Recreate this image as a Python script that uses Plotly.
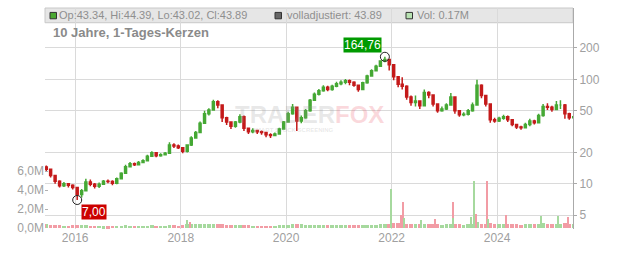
import math
import pandas as pd
import plotly.graph_objects as go

# ---------------- data (monthly candles) ----------------
months = pd.date_range("2015-06-01", "2025-06-01", freq="MS") + pd.Timedelta(days=14)

close = [13.8, 12.0, 10.6, 9.6, 10.0, 9.7, 9.2,
         7.9, 8.6, 10.4, 9.9, 9.5, 9.9, 10.6, 10.5, 10.1, 11.2, 12.6, 14.6,
         15.6, 15.2, 16.0, 16.6, 18.4, 19.8, 18.6, 19.0, 19.6, 23.5, 23.0, 22.2,
         20.5, 23.5, 27.5, 31.0, 38.0, 47.0, 51.0, 61.0, 57.0, 43.0, 39.0, 35.5,
         39.0, 44.0, 34.0, 31.5, 32.5, 31.5, 31.0, 29.5, 29.0, 30.0, 33.5, 39.0,
         47.0, 54.0, 40.0, 43.0, 50.0, 63.0, 72.0, 78.0, 84.0, 80.0, 86.0, 91.0,
         94.0, 97.0, 94.0, 88.0, 80.0, 93.0, 108.0, 121.0, 134.0, 150.0, 155.0, 138.0,
         106.0, 90.0, 86.0, 68.0, 60.0, 62.0, 56.0, 75.0, 71.0, 58.0, 50.0, 52.0,
         57.0, 68.0, 50.0, 46.0, 46.5, 50.0, 57.0, 88.0, 70.0, 58.0, 41.0, 40.0,
         42.5, 44.0, 41.0, 37.0, 35.0, 34.5, 37.0, 40.0, 38.5, 45.0, 55.0, 54.0,
         51.5, 57.0, 57.0, 47.0, 43.0, 43.89]

high = [15.0, 14.0, 12.2, 10.8, 10.4, 10.2, 9.9,
        9.3, 8.9, 11.2, 11.0, 10.2, 10.3, 10.9, 11.0, 10.8, 11.5, 12.9, 15.2,
        16.2, 16.0, 16.5, 17.2, 19.0, 20.5, 20.0, 19.6, 20.2, 25.0, 24.5, 23.8,
        22.5, 24.0, 28.5, 32.0, 39.5, 50.0, 53.0, 64.0, 63.0, 57.0, 44.0, 39.5,
        40.0, 46.5, 45.0, 34.5, 34.0, 33.0, 32.5, 31.5, 30.5, 31.0, 34.5, 40.0,
        49.0, 58.0, 55.0, 45.0, 52.0, 65.0, 75.0, 81.0, 88.0, 87.0, 89.0, 95.0,
        98.0, 101.0, 100.0, 96.0, 89.0, 95.0, 111.0, 125.0, 138.0, 153.0, 164.76, 158.0,
        140.0, 108.0, 105.0, 88.0, 70.0, 70.0, 63.0, 80.0, 77.0, 72.0, 59.0, 55.0,
        59.0, 74.0, 69.0, 51.0, 48.5, 52.0, 60.0, 99.0, 90.0, 71.0, 59.0, 43.0,
        44.0, 46.0, 45.0, 41.5, 37.5, 36.0, 38.5, 42.0, 41.0, 47.0, 58.0, 59.0,
        56.0, 62.0, 63.0, 58.0, 48.0, 45.5]

low = [13.2, 11.5, 10.0, 9.2, 9.3, 9.2, 8.8,
       7.0, 7.4, 8.5, 9.5, 9.0, 9.1, 9.8, 10.1, 9.7, 9.9, 11.0, 12.5,
       14.3, 14.8, 15.0, 15.8, 16.4, 18.2, 18.0, 18.2, 18.8, 19.4, 22.0, 21.5,
       19.6, 20.0, 23.0, 27.0, 30.5, 37.5, 45.0, 50.0, 53.0, 39.0, 36.5, 33.5,
       34.5, 38.0, 32.0, 30.0, 30.5, 30.0, 29.5, 28.0, 27.5, 28.5, 29.5, 33.0,
       38.5, 46.0, 32.0, 38.0, 42.0, 49.0, 62.0, 70.0, 76.0, 77.0, 78.0, 84.0,
       88.0, 90.0, 88.0, 85.0, 76.0, 79.0, 91.0, 106.0, 119.0, 132.0, 146.0, 122.0,
       98.0, 84.0, 80.0, 64.0, 56.0, 55.0, 52.0, 55.0, 66.0, 55.0, 48.0, 49.0,
       51.0, 56.0, 47.0, 44.0, 44.5, 45.0, 49.0, 56.0, 66.0, 55.0, 38.5, 38.5,
       39.0, 41.0, 39.0, 35.5, 33.5, 33.0, 34.0, 35.5, 37.0, 38.0, 44.0, 51.0,
       49.0, 51.0, 52.0, 42.0, 41.0, 42.0]

first_open = 14.5
opens = [first_open] + close[:-1]

# typical daily volume per month (millions)
vol_month = [0.40, 0.35, 0.30, 0.28, 0.25, 0.25, 0.28,
             0.35, 0.30, 0.28, 0.25, 0.22, 0.22, 0.20, 0.20, 0.22, 0.24, 0.26, 0.28,
             0.26, 0.24, 0.24, 0.22, 0.26, 0.28, 0.24, 0.24, 0.25, 0.30, 0.28, 0.26,
             0.30, 0.42, 0.42, 0.40, 0.42, 0.45, 0.42, 0.45, 0.42, 0.42, 0.35, 0.30,
             0.30, 0.34, 0.35, 0.28, 0.26, 0.26, 0.25, 0.26, 0.25, 0.26, 0.28, 0.30,
             0.35, 0.40, 0.48, 0.40, 0.35, 0.35, 0.34, 0.30, 0.30, 0.28, 0.30, 0.28,
             0.30, 0.30, 0.28, 0.28, 0.30, 0.28, 0.30, 0.34, 0.35, 0.40, 0.42, 0.45,
             0.55, 0.52, 0.55, 0.48, 0.45, 0.42, 0.40, 0.45, 0.42, 0.42, 0.40, 0.36,
             0.40, 0.48, 0.45, 0.40, 0.36, 0.40, 0.42, 0.60, 0.48, 0.45, 0.55, 0.42,
             0.42, 0.40, 0.45, 0.42, 0.40, 0.36, 0.40, 0.42, 0.40, 0.42, 0.55, 0.48,
             0.45, 0.48, 0.48, 0.52, 0.45, 0.42]

# single-day volume spikes (millions)
spike_dates = ["2015-06-22", "2018-02-14", "2018-03-05", "2021-12-29", "2022-03-07",
               "2022-03-21", "2022-03-28", "2022-07-25", "2022-10-31", "2023-02-27",
               "2023-03-03", "2023-07-03", "2023-07-27", "2023-08-08", "2023-10-23",
               "2023-11-03", "2024-03-01", "2024-11-04", "2025-02-24", "2025-05-08"]
spike_vol = [0.45, 0.85, 0.6, 4.1, 1.4, 2.7, 1.1, 0.8, 0.95, 2.7,
             1.1, 1.2, 5.0, 1.5, 5.0, 1.0, 1.4, 1.3, 1.3, 1.2]
spike_up = [True, True, False, True, False, False, True, True, False, False,
            True, True, True, False, False, True, False, True, True, False]

hi_date, hi_val = "2021-11-15", 164.76
lo_date, lo_val = "2016-01-15", 7.00

last_ohlc = {"Op": "43.34", "Hi": "44.39", "Lo": "43.02", "Cl": "43.89"}
adj_close = "43.89"
last_vol = "0.17M"

year_ticks = ["2016", "2018", "2020", "2022", "2024"]
price_ticks = [5, 10, 20, 50, 100, 200]
vol_ticks = [0, 2, 4, 6]

# ---------------- styling ----------------
W, H = 632, 253
ML, MR, MT, MB = 45, 59, 8, 20
PW, PH = W - ML - MR, H - MT - MB
GREEN, RED = "#45a834", "#c41a1a"
VGREEN, VRED = "#a6d99e", "#f29ca5"
GRID = "#dadada"
TXT = "#a0a0a0"
FONT = "Liberation Sans, Arial, sans-serif"


def pxx(px):
    return (px - ML) / PW


def pxy(py):
    return (H - MB - py) / PH


DAY = 86400000
fig = go.Figure()

vol_colors = [VGREEN if c >= o else VRED for o, c in zip(opens, close)]
fig.add_trace(go.Bar(x=months, y=[v * 1e6 for v in vol_month], width=24 * DAY,
                     marker=dict(color=vol_colors, line=dict(width=0)),
                     yaxis="y", showlegend=False, hoverinfo="skip"))
fig.add_trace(go.Bar(x=pd.to_datetime(spike_dates), y=[v * 1e6 for v in spike_vol], width=8 * DAY,
                     marker=dict(color=[VGREEN if u else VRED for u in spike_up], line=dict(width=0)),
                     yaxis="y", showlegend=False, hoverinfo="skip"))

fig.add_trace(go.Candlestick(x=months, open=opens, high=high, low=low, close=close,
                             increasing=dict(line=dict(color=GREEN, width=1.5), fillcolor=GREEN),
                             decreasing=dict(line=dict(color=RED, width=1.5), fillcolor=RED),
                             whiskerwidth=0, yaxis="y2", showlegend=False))

fig.add_trace(go.Scatter(x=[hi_date, lo_date], y=[hi_val, lo_val], mode="markers",
                         marker=dict(symbol="circle-open", size=9, color="#222222",
                                     line=dict(width=1, color="#222222")),
                         yaxis="y2", showlegend=False, hoverinfo="skip"))

fmt = lambda v: f"{v:.2f}".replace(".", ",")
annotations = [
    dict(x=hi_date, y=math.log10(hi_val), xref="x", yref="y2", text=fmt(hi_val),
         showarrow=False, xanchor="right", yanchor="bottom", xshift=-3, yshift=4,
         bgcolor="#009a00", borderpad=0, font=dict(color="white", size=12, family=FONT)),
    dict(x=lo_date, y=math.log10(lo_val), xref="x", yref="y2", text=fmt(lo_val),
         showarrow=False, xanchor="left", yanchor="top", xshift=4, yshift=-4,
         bgcolor="#cc0000", borderpad=0, font=dict(color="white", size=12, family=FONT)),
    # header band texts
    dict(x=pxx(57), y=pxy(15.5), xref="paper", yref="paper", xanchor="left", yanchor="middle",
         showarrow=False, text=", ".join(f"{k}:{v}" for k, v in last_ohlc.items()),
         font=dict(size=11, color="#8f8f8f", family=FONT)),
    dict(x=pxx(285), y=pxy(15.5), xref="paper", yref="paper", xanchor="left", yanchor="middle",
         showarrow=False, text=f"volladjustiert: {adj_close}",
         font=dict(size=11, color="#8f8f8f", family=FONT)),
    dict(x=pxx(415), y=pxy(15.5), xref="paper", yref="paper", xanchor="left", yanchor="middle",
         showarrow=False, text=f"Vol: {last_vol}",
         font=dict(size=11, color="#8f8f8f", family=FONT)),
    dict(x=pxx(51), y=pxy(33), xref="paper", yref="paper", xanchor="left", yanchor="middle",
         showarrow=False, text="<b>10 Jahre, 1-Tages-Kerzen</b>",
         font=dict(size=13, color="#8a8a8a", family=FONT)),
    # watermark
    dict(x=pxx(309), y=pxy(116), xref="paper", yref="paper", xanchor="center", yanchor="middle",
         showarrow=False,
         text="<b><span style='color:rgba(150,150,150,0.22)'>TRADER</span>"
              "<span style='color:rgba(235,80,95,0.22)'>FOX</span></b>",
         font=dict(size=24, family=FONT)),
    dict(x=pxx(293), y=pxy(132), xref="paper", yref="paper", xanchor="center", yanchor="middle",
         showarrow=False, text="<b>SMART STOCK SCREENING</b>",
         font=dict(size=6, color="rgba(150,150,150,0.22)", family=FONT)),
]

shapes = [
    dict(type="rect", xref="paper", yref="paper", x0=0, x1=1, y0=pxy(23), y1=1,
         fillcolor="#e6e6e6", line=dict(color="#c8c8c8", width=1), layer="below"),
    dict(type="rect", xref="paper", yref="paper", x0=pxx(50), x1=pxx(56.5), y0=pxy(19), y1=pxy(12.5),
         fillcolor="#4aa832", line=dict(color="#333333", width=1)),
    dict(type="rect", xref="paper", yref="paper", x0=pxx(275), x1=pxx(281.5), y0=pxy(19), y1=pxy(12.5),
         fillcolor="#666666", line=dict(color="#333333", width=1)),
    dict(type="rect", xref="paper", yref="paper", x0=pxx(406), x1=pxx(412.5), y0=pxy(19), y1=pxy(12.5),
         fillcolor="#b8e2b2", line=dict(color="#333333", width=1)),
]

fig.update_layout(
    width=W, height=H, autosize=False,
    margin=dict(l=ML, r=MR, t=MT, b=MB, pad=0),
    paper_bgcolor="white", plot_bgcolor="white",
    font=dict(family=FONT, size=12, color=TXT),
    barmode="overlay", bargap=0, showlegend=False,
    annotations=annotations, shapes=shapes,
    xaxis=dict(type="date", range=["2015-06-06", "2025-06-10"],
               tickvals=[f"{y}-01-01" for y in year_ticks], ticktext=year_ticks,
               showgrid=True, gridcolor=GRID, gridwidth=1, zeroline=False, showline=False,
               ticks="", tickfont=dict(size=12, color=TXT),
               rangeslider=dict(visible=False), fixedrange=True),
    yaxis=dict(range=[-0.1e6, 23.2e6], tickvals=[v * 1e6 for v in vol_ticks],
               ticktext=[f"{v},0M" for v in vol_ticks], showgrid=False, zeroline=False,
               ticks="inside", ticklen=3, tickcolor="#b0b0b0", side="left",
               tickfont=dict(size=12, color=TXT), showline=False),
    yaxis2=dict(type="log", range=[0.5673, 2.684], overlaying="y", side="right",
                tickvals=price_ticks, ticktext=[str(v) for v in price_ticks],
                showgrid=True, gridcolor=GRID, gridwidth=1, zeroline=False,
                showline=True, linecolor="#aaaaaa", linewidth=1,
                ticks="outside", ticklen=3, tickcolor="#aaaaaa",
                tickfont=dict(size=12, color=TXT)),
)

fig.write_html("out.html")
